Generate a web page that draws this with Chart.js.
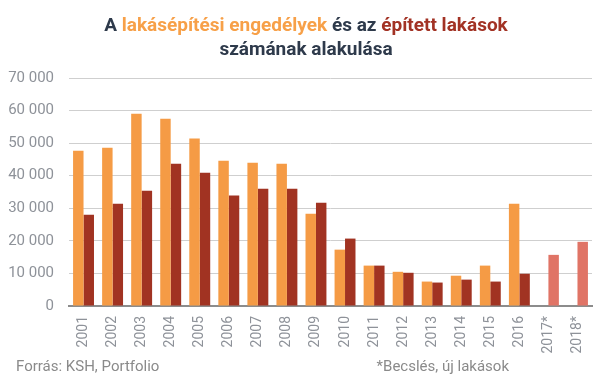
<!DOCTYPE html>
<html>
<head>
<meta charset="utf-8">
<script src="https://cdn.jsdelivr.net/npm/chart.js@4"></script>
<style>
  html, body { margin: 0; padding: 0; background: #ffffff; }
  #wrap { position: relative; width: 607px; height: 380px; overflow: hidden; font-family: Roboto, "Noto Sans", sans-serif; }
  #chart { position: absolute; left: 0; top: 0; width: 607px; height: 380px; }
  .title { position: absolute; left: 0; width: 612px; text-align: center; font-weight: bold; font-size: 19px; line-height: 24px; color: #2e3a4b; white-space: nowrap; }
  .o { color: #f7a048; }
  .r { color: #a23224; }
  .foot { position: absolute; font-size: 15px; line-height: 16px; color: #8a8a8a; white-space: nowrap; }
</style>
</head>
<body>
<div id="wrap">
  <canvas id="chart" width="607" height="380"></canvas>
  <div class="title" style="top:13px;">A <span class="o">lakásépítési engedélyek</span> és az <span class="r">épített lakások</span></div>
  <div class="title" style="top:37px;">számának alakulása</div>
  <div class="foot" style="left:16px; top:358px;">Forrás: KSH, Portfolio</div>
  <div class="foot" style="right:98px; top:358px;">*Becslés, új lakások</div>
</div>
<script>
const categories = ["2001","2002","2003","2004","2005","2006","2007","2008","2009","2010","2011","2012","2013","2014","2015","2016","2017*","2018*"];
const permits = [47700, 48600, 59000, 57500, 51400, 44600, 44000, 43700, 28300, 17300, 12400, 10500, 7500, 9300, 12400, 31400, null, null];
const built = [28000, 31400, 35400, 43700, 40900, 33900, 36000, 36000, 31700, 20700, 12400, 10200, 7200, 8100, 7500, 9900, 15700, 19700];
const estimated = [false,false,false,false,false,false,false,false,false,false,false,false,false,false,false,false,true,true];
const yTicks = [0, 10000, 20000, 30000, 40000, 50000, 60000, 70000];

const ORANGE = '#f59b45', DARKRED = '#a13322', SALMON = '#e07466';
const builtColors = estimated.map(e => e ? SALMON : DARKRED);

function fmt(v) { return String(v).replace(/\B(?=(\d{3})+(?!\d))/g, ' '); }

new Chart(document.getElementById('chart'), {
  type: 'bar',
  data: {
    labels: categories,
    datasets: [
      { label: 'Lakásépítési engedélyek', data: permits, backgroundColor: ORANGE, categoryPercentage: 0.72, barPercentage: 1.0 },
      { label: 'Épített lakások', data: built, backgroundColor: builtColors, categoryPercentage: 0.72, barPercentage: 1.0 }
    ]
  },
  options: {
    responsive: false,
    animation: false,
    layout: { padding: { left: 0, right: 15, top: 78, bottom: 14 } },
    plugins: { legend: { display: false }, title: { display: false }, tooltip: { enabled: false } },
    scales: {
      x: {
        grid: { display: false, drawTicks: false },
        border: { display: true, color: '#8c8c8c', width: 2 },
        ticks: { color: '#8e9299', font: { family: 'Roboto', size: 14 }, maxRotation: 90, minRotation: 90, padding: 10, autoSkip: false },
        afterFit: (s) => { s.height = 60; }
      },
      y: {
        min: 0, max: 70000,
        afterBuildTicks: (s) => { s.ticks = yTicks.map(v => ({ value: v })); },
        grid: { color: '#cfcfcf', lineWidth: 1, drawTicks: false },
        border: { display: false },
        ticks: { color: '#8e9299', font: { family: 'Roboto', size: 15 }, padding: 15, callback: (v) => fmt(v) },
        afterFit: (s) => { s.width = 69; }
      }
    }
  }
});
</script>
</body>
</html>
